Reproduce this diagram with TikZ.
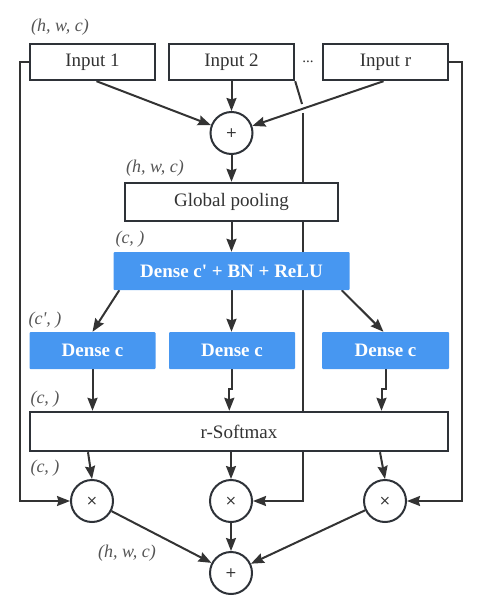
\documentclass[tikz,border=0pt]{standalone}
\usepackage{fontspec}
\setmainfont{Liberation Serif}[Ligatures=TeXOff]
\newfontfamily\symfont{DejaVu Sans}
\usetikzlibrary{arrows.meta,calc}
\pgfdeclarelayer{bg}
\pgfsetlayers{bg,main}
\definecolor{ln}{HTML}{333333}
\definecolor{bd}{HTML}{2E3238}
\definecolor{bl}{HTML}{4797F1}
\definecolor{lb}{HTML}{555555}
\begin{document}
\begin{tikzpicture}[x=1pt,y=-1pt,
  wbox/.style={draw=bd,line width=2.4pt,fill=white,minimum height=36pt,inner sep=0pt,text=ln,font=\fontsize{19}{22}\selectfont},
  bbox/.style={fill=bl,rounded corners=1pt,minimum height=37pt,inner sep=0pt,text=white,font=\fontsize{19}{22}\selectfont\bfseries},
  op/.style={circle,draw=bd,line width=2pt,fill=white,minimum size=42pt,inner sep=0pt,text=ln,font=\symfont\fontsize{14}{14}\selectfont},
  lab/.style={text=lb,font=\fontsize{18}{20}\selectfont\itshape,inner sep=0pt},
  arr/.style={draw=ln,line width=2pt,-{Stealth[length=13pt,width=10pt,inset=1.5pt]}},
  ln/.style={draw=ln,line width=2pt}]
\useasboundingbox (0,0) rectangle (490,604);
% nodes
\node[wbox,minimum width=125pt] (in1) at (92.5,62) {Input 1};
\node[wbox,minimum width=125pt] (in2) at (231.5,62) {Input 2};
\node[wbox,minimum width=125pt] (inr) at (385.5,62) {Input r};
\node[text=ln,font=\fontsize{15}{15}\selectfont,inner sep=0pt] (dots) at (308,62) {...};
\node[op] (p1) at (231.5,133) {+};
\node[wbox,minimum width=213pt,minimum height=38pt] (gp) at (231.5,202) {Global pooling};
\node[bbox,minimum width=236pt,minimum height=38pt] (dcb) at (231.5,271) {Dense c' + BN + ReLU};
\node[bbox,minimum width=126pt] (dc1) at (92.5,350.5) {Dense c};
\node[bbox,minimum width=126pt] (dc2) at (232,350.5) {Dense c};
\node[bbox,minimum width=127pt] (dc3) at (385.5,350.5) {Dense c};
\node[wbox,minimum width=418pt,minimum height=39pt] (sm) at (239,431.5) {r-Softmax};
\node[op] (m1) at (92,501) {×};
\node[op] (m2) at (231,501) {×};
\node[op] (m3) at (385,501) {×};
\node[op] (p2) at (231,573) {+};
% labels
\node[lab] (l1) at (60,27) {(h, w, c)};
\node[lab] (l2) at (155,168) {(h, w, c)};
\node[lab] (l3) at (130,239) {(c, )};
\node[lab] (l4) at (45,320) {(c', )};
\node[lab] (l5) at (45,399) {(c, )};
\node[lab] (l6) at (45,468) {(c, )};
\node[lab] (l7) at (127,553) {(h, w, c)};
\coordinate (j1) at (302,104);
\coordinate (j2) at (303,113);
\begin{pgfonlayer}{bg}
\draw[arr] ([xshift=4pt]in1.south) -- (p1);
\draw[arr] (in2.south) -- (p1);
\draw[arr] ([xshift=-2pt]inr.south) -- (p1);
\draw[ln] (in2.south east) -- (j1);
\draw[arr] (j2) |- (m2.east);
\draw[arr] (in1.west) -- ++(-9,0) |- (m1.west);
\draw[arr] (inr.east) -- ++(13,0) |- (m3.east);
\draw[arr] (p1) -- (gp);
\draw[arr] (gp.south) -- (gp.south |- dcb.north);
\draw[arr] ([xshift=6pt]dcb.south west) -- (dc1.north);
\draw[arr] (dcb.south) -- (dcb.south |- dc2.north);
\draw[arr] ([xshift=-8pt]dcb.south east) -- ([xshift=-2pt]dc3.north);
\draw[arr] (dc1.south) -- (dc1.south |- sm.north);
\draw[arr] (dc2.south) -- ++(0,20) -| ([xshift=-2.7pt]dc2.south |- sm.north);
\draw[arr] (dc3.south) -- ++(0,20) -| ([xshift=-4pt]dc3.south |- sm.north);
\draw[arr] ([xshift=-4pt]sm.south -| m1.north) -- (m1.north);
\draw[arr] (sm.south -| m2.north) -- (m2.north);
\draw[arr] ([xshift=-5pt]sm.south -| m3.north) -- (m3.north);
\draw[arr] (m1) -- (p2);
\draw[arr] (m2) -- (p2);
\draw[arr] (m3) -- (p2);
\end{pgfonlayer}
\end{tikzpicture}
\end{document}
